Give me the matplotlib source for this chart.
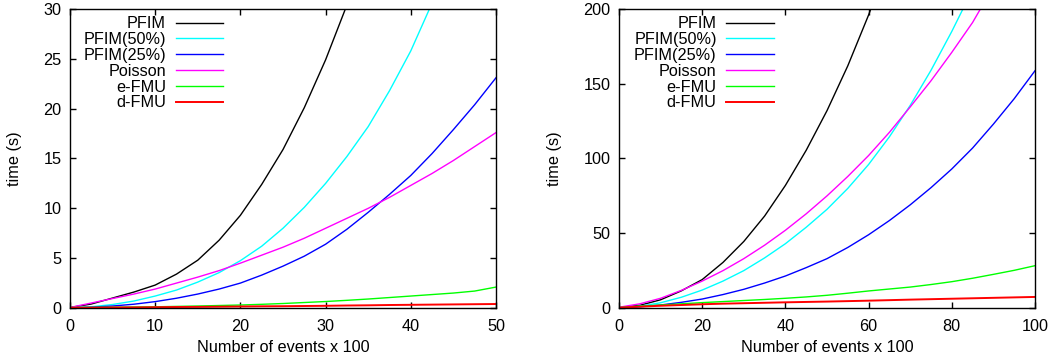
import matplotlib
matplotlib.use("Agg")
import matplotlib.pyplot as plt

plt.rcParams['font.family'] = ['Liberation Sans', 'DejaVu Sans']
plt.rcParams['font.size'] = 11.7

labels = ['PFIM', 'PFIM(50%)', 'PFIM(25%)', 'Poisson', 'e-FMU', 'd-FMU']
colors = ['#000000', '#00ffff', '#0000ff', '#ff00ff', '#00ff00', '#ff0000']

# left panel: events x 100 from 0 to 50 (series may stop once they leave the plot)
x_left = [0, 2.5, 5, 7.5, 10, 12.5, 15, 17.5, 20, 22.5, 25, 27.5, 30,
          32.5, 35, 37.5, 40, 42.5, 45, 47.5, 50]
pfim_l    = [0.05, 0.4, 1.0, 1.6, 2.3, 3.4, 4.8, 6.8, 9.3, 12.4, 15.9, 20.1, 24.9,
             30.4, 36.5]
pfim50_l  = [0.02, 0.12, 0.35, 0.7, 1.2, 1.8, 2.6, 3.55, 4.75, 6.2, 8.0, 10.1, 12.5,
             15.2, 18.2, 21.8, 25.8, 30.6, 35.0]
pfim25_l  = [0.02, 0.08, 0.2, 0.38, 0.64, 0.98, 1.4, 1.9, 2.5, 3.3, 4.2, 5.2, 6.4,
             7.9, 9.6, 11.4, 13.3, 15.5, 17.9, 20.4, 23.1]
poisson_l = [0.05, 0.5, 0.95, 1.4, 1.9, 2.5, 3.1, 3.75, 4.5, 5.3, 6.1, 7.0, 8.0,
             9.0, 10.0, 11.1, 12.3, 13.5, 14.8, 16.2, 17.6]
efmu_l    = [0.05, 0.06, 0.08, 0.1, 0.12, 0.16, 0.2, 0.25, 0.3, 0.37, 0.45, 0.55, 0.65,
             0.77, 0.9, 1.05, 1.2, 1.35, 1.5, 1.7, 2.1]
dfmu_l    = [0.02, 0.03, 0.05, 0.06, 0.08, 0.1, 0.11, 0.13, 0.15, 0.17, 0.18, 0.2, 0.22,
             0.25, 0.27, 0.3, 0.32, 0.34, 0.36, 0.38, 0.4]

# right panel: events x 100 from 0 to 100
x_right = [0, 5, 10, 15, 20, 25, 30, 35, 40, 45, 50, 55, 60, 65, 70, 75, 80,
           85, 90, 95, 100]
pfim_r    = [0.3, 1.8, 5.5, 11.5, 19, 30.5, 44.5, 61.5, 82, 105.5, 132, 162, 196, 234]
pfim50_r  = [0.1, 1.2, 3.5, 7.2, 12, 18, 25, 33.5, 43, 54, 66, 80, 96, 114.5, 135.5,
             159, 185, 213]
pfim25_r  = [0.1, 0.8, 2.0, 3.8, 6.0, 9.0, 12.5, 16.7, 21.4, 27, 33, 40.5, 49, 58.5,
             69, 80.5, 93, 107, 123, 140, 158.7]
poisson_r = [0.5, 2.8, 6.5, 11.8, 18, 25, 33, 42, 52, 63, 75, 88, 102, 117.5, 134.5,
             152, 171, 191, 215]
efmu_r    = [0.3, 1.2, 2.0, 2.8, 3.6, 4.3, 5.0, 5.7, 6.5, 7.4, 8.5, 9.9, 11.4, 12.7,
             14.0, 15.7, 17.6, 19.9, 22.5, 25.2, 28.3]
dfmu_r    = [0.2, 0.9, 1.5, 2.0, 2.5, 2.9, 3.2, 3.5, 3.8, 4.05, 4.3, 4.6, 4.9, 5.25,
             5.6, 5.9, 6.2, 6.5, 6.8, 7.1, 7.4]

left_series = [pfim_l, pfim50_l, pfim25_l, poisson_l, efmu_l, dfmu_l]
right_series = [pfim_r, pfim50_r, pfim25_r, poisson_r, efmu_r, dfmu_r]

fig = plt.figure(figsize=(10.52, 3.6), dpi=100)
ax1 = fig.add_axes([70/1052, 52/360, 426/1052, 299/360])
ax2 = fig.add_axes([619/1052, 52/360, 416/1052, 299/360])


def draw(ax, x, series, xmax, ymax, xticks, yticks, leg_x):
    for ys, lab, c in zip(series, labels, colors):
        lw = 1.4 if lab == 'd-FMU' else 1.0
        ax.plot(x[:len(ys)], ys, color=c, lw=lw, label=lab)
    ax.set_xlim(0, xmax)
    ax.set_ylim(0, ymax)
    ax.set_xticks(xticks)
    ax.set_yticks(yticks)
    ax.tick_params(direction='in', top=True, right=True, length=4, width=1)
    ax.tick_params(axis='y', pad=6)
    ax.tick_params(axis='x', pad=8)
    for sp in ax.spines.values():
        sp.set_linewidth(1.0)
    ax.set_xlabel('Number of events x 100', labelpad=4)
    ax.set_ylabel('time (s)', labelpad=15.5)
    ax.legend(loc='upper right', bbox_to_anchor=(leg_x, 1.0), frameon=False,
              markerfirst=False, handlelength=2.9, handletextpad=0.6,
              labelspacing=0.05, borderpad=0.45, borderaxespad=0.0)


draw(ax1, x_left, left_series, 50, 30, range(0, 51, 10), range(0, 31, 5), 0.376)
draw(ax2, x_right, right_series, 100, 200, range(0, 101, 20), range(0, 201, 50), 0.389)

fig.savefig('out.png', dpi=100)
